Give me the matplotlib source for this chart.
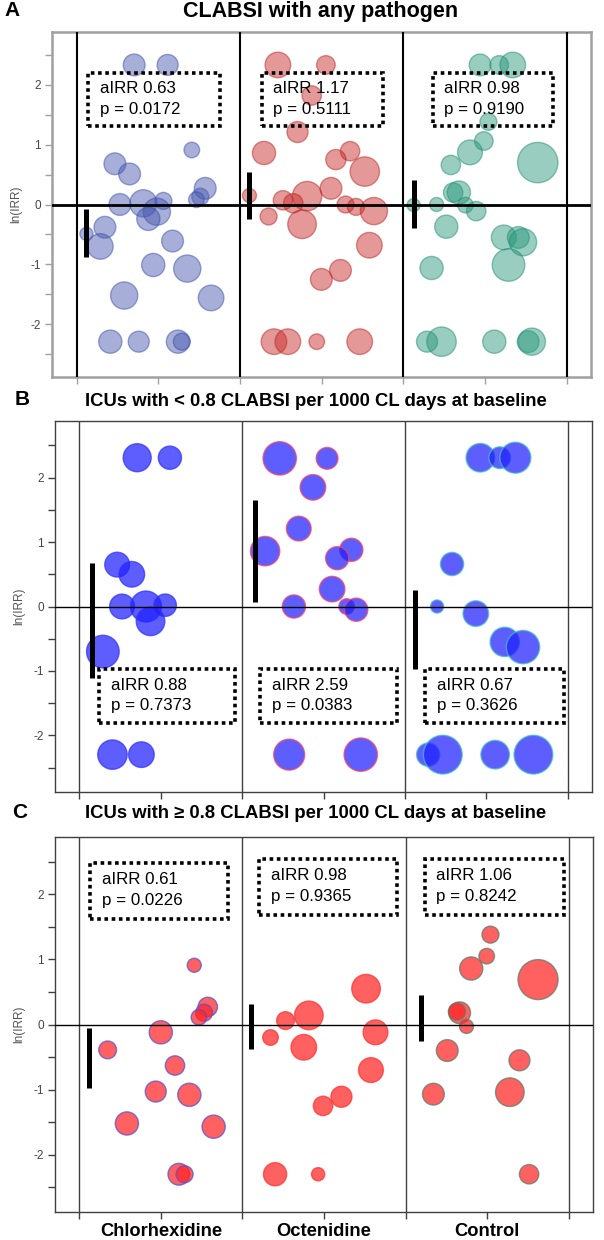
import numpy as np
import matplotlib
matplotlib.use("Agg")
import matplotlib.pyplot as plt
from matplotlib.patches import Rectangle

plt.rcParams['font.family'] = ['Liberation Sans', 'DejaVu Sans']

groups = ['Chlorhexidine', 'Octenidine', 'Control']

# ---- panel A: CLABSI with any pathogen ----
a_chx_x = [0.353, 0.558, 0.706, 0.235, 0.325, 0.266, 0.409, 0.532, 0.492, 0.44, 0.758, 0.788, 0.734,
           0.061, 0.174, 0.146, 0.588, 0.47, 0.678, 0.292, 0.824, 0.207, 0.381, 0.621, 0.645]
a_chx_y = [2.33, 2.33, 0.91, 0.68, 0.51, 0.0, 0.02, 0.06, -0.12, -0.24, 0.13, 0.27, 0.08,
           -0.49, -0.38, -0.70, -0.61, -1.01, -1.07, -1.52, -1.56, -2.29, -2.29, -2.29, -2.29]
a_chx_w = [10.9, 10.5, 7.8, 10.9, 10.9, 10.9, 13.6, 8.5, 13.6, 11.6, 8.5, 10.9, 7.8,
           6.6, 10.9, 12.8, 10.9, 11.6, 13.6, 13.6, 12.8, 11.6, 10.5, 11.6, 8.5]
a_oct_x = [0.233, 0.527, 0.44, 0.353, 0.148, 0.675, 0.588, 0.765, 0.558, 0.412, 0.059, 0.264, 0.327,
           0.647, 0.711, 0.821, 0.176, 0.381, 0.793, 0.616, 0.499, 0.209, 0.294, 0.471, 0.734]
a_oct_y = [2.33, 2.33, 1.82, 1.21, 0.86, 0.89, 0.75, 0.55, 0.27, 0.14, 0.15, 0.07, 0.02,
           0.0, -0.04, -0.11, -0.2, -0.33, -0.68, -1.10, -1.25, -2.29, -2.29, -2.29, -2.29]
a_oct_w = [12.8, 9.3, 9.7, 10.5, 11.6, 9.7, 10.1, 14.7, 10.9, 14.7, 7.0, 9.7, 9.7,
           8.5, 8.5, 13.6, 8.5, 14.3, 12.8, 10.9, 10.9, 12.8, 12.8, 7.8, 12.8]
a_ctl_x = [0.471, 0.588, 0.671, 0.522, 0.494, 0.409, 0.824, 0.292, 0.306, 0.341, 0.064, 0.205, 0.381,
           0.447, 0.264, 0.616, 0.705, 0.734, 0.174, 0.645, 0.146, 0.235, 0.558, 0.765, 0.788]
a_ctl_y = [2.33, 2.33, 2.33, 1.38, 1.06, 0.87, 0.70, 0.66, 0.20, 0.20, -0.01, 0.0, -0.01,
           -0.11, -0.37, -0.55, -0.55, -0.63, -1.06, -1.01, -2.29, -2.29, -2.29, -2.29, -2.29]
a_ctl_w = [10.9, 9.3, 12.8, 8.5, 9.3, 12.4, 20.2, 9.7, 9.7, 11.6, 6.6, 7.0, 7.8,
           9.7, 11.6, 12.4, 10.9, 13.6, 11.6, 16.3, 10.5, 14.7, 11.6, 10.9, 13.6]
a_ci_lo = [-0.88, -0.25, -0.39]
a_ci_hi = [-0.08, 0.54, 0.41]
a_airr = ['0.63', '1.17', '0.98']
a_p = ['0.0172', '0.5111', '0.9190']

# ---- panel B: ICUs with < 0.8 CLABSI per 1000 CL days ----
b_chx_x = [0.355, 0.556, 0.232, 0.322, 0.262, 0.409, 0.527, 0.437, 0.144, 0.203, 0.381]
b_chx_y = [2.31, 2.31, 0.65, 0.50, 0.0, 0.0, 0.02, -0.23, -0.70, -2.30, -2.30]
b_chx_w = [14.0, 11.6, 12.4, 12.8, 12.4, 15.5, 11.2, 14.3, 16.3, 14.7, 12.8]
b_oct_x = [0.231, 0.522, 0.435, 0.348, 0.141, 0.671, 0.584, 0.553, 0.318, 0.642, 0.701, 0.289, 0.729]
b_oct_y = [2.30, 2.30, 1.85, 1.21, 0.86, 0.88, 0.75, 0.27, 0.0, 0.0, -0.05, -2.30, -2.30]
b_oct_w = [16.7, 10.9, 12.8, 12.4, 14.7, 11.6, 11.6, 12.8, 11.6, 7.8, 11.6, 15.5, 16.7]
b_ctl_x = [0.464, 0.583, 0.679, 0.290, 0.198, 0.436, 0.614, 0.726, 0.143, 0.233, 0.555, 0.79]
b_ctl_y = [2.31, 2.31, 2.31, 0.66, 0.0, -0.11, -0.55, -0.63, -2.30, -2.30, -2.30, -2.30]
b_ctl_w = [14.3, 10.9, 15.5, 11.6, 6.6, 12.8, 14.7, 16.7, 11.6, 19.4, 14.3, 19.4]
b_ci_lo = [-1.11, 0.07, -0.97]
b_ci_hi = [0.67, 1.66, 0.26]
b_airr = ['0.88', '2.59', '0.67']
b_p = ['0.7373', '0.0383', '0.3626']

# ---- panel C: ICUs with >= 0.8 CLABSI per 1000 CL days ----
c_chx_x = [0.704, 0.787, 0.764, 0.733, 0.499, 0.173, 0.586, 0.468, 0.674, 0.291, 0.823, 0.61, 0.645]
c_chx_y = [0.91, 0.27, 0.18, 0.11, -0.12, -0.39, -0.63, -1.03, -1.08, -1.52, -1.57, -2.30, -2.30]
c_chx_w = [7.0, 9.7, 8.5, 7.8, 11.6, 8.9, 9.7, 10.5, 11.6, 11.6, 11.6, 10.9, 8.5]
c_oct_x = [0.758, 0.407, 0.264, 0.172, 0.376, 0.816, 0.788, 0.607, 0.494, 0.2, 0.464]
c_oct_y = [0.55, 0.14, 0.06, -0.20, -0.35, -0.12, -0.70, -1.11, -1.25, -2.30, -2.30]
c_oct_w = [14.3, 14.3, 8.9, 7.8, 12.8, 12.4, 12.4, 10.5, 9.7, 11.6, 6.6]
c_ctl_x = [0.521, 0.498, 0.403, 0.813, 0.332, 0.315, 0.374, 0.256, 0.699, 0.171, 0.64, 0.758]
c_ctl_y = [1.38, 1.05, 0.86, 0.69, 0.18, 0.20, -0.03, -0.40, -0.55, -1.07, -1.04, -2.30]
c_ctl_w = [8.5, 7.8, 11.6, 20.0, 10.9, 8.5, 7.0, 10.9, 10.5, 10.9, 14.3, 9.7]
c_ci_lo = [-0.97, -0.37, -0.26]
c_ci_hi = [-0.05, 0.31, 0.46]
c_airr = ['0.61', '0.98', '1.06']
c_p = ['0.0226', '0.9365', '0.8242']

W, H = 604, 1240
fig = plt.figure(figsize=(W / 100, H / 100), dpi=100)


def make_ax(l, r, t, b):
    return fig.add_axes([l / W, 1 - b / H, (r - l) / W, (b - t) / H])


def size(w):
    # radius in px -> marker area in pt^2
    return (np.array(w) * 1.44) ** 2


def panel(ax, pts, ci_x, ci_lo, ci_hi, airr, pv, boxes, txt, faces, edges, alpha,
          frame, lw_grid, lw_zero):
    for g, (xs, ys, ws) in enumerate(pts):
        ax.scatter(np.array(xs) + g, ys, s=size(ws), facecolor=faces[g], edgecolor=edges[g],
                   alpha=alpha, linewidths=1.0, zorder=2)
    for g in range(4):
        ax.axvline(g, color=frame if lw_grid < 1.2 else 'black', lw=lw_grid, zorder=3)
    ax.axhline(0, color='black', lw=lw_zero, zorder=3)
    for g in range(3):
        ax.plot([ci_x[g] + g] * 2, [ci_lo[g], ci_hi[g]], color='black', lw=3.6,
                solid_capstyle='butt', zorder=4)
        x0, x1, y0, y1 = boxes[g]
        ax.add_patch(Rectangle((g + x0, y0), x1 - x0, y1 - y0, fill=False, ec='black',
                               lw=2.6, ls=(0, (1, 1)), zorder=5))
        tx, ty1, ty2 = txt[g]
        ax.text(g + tx, ty1, 'aIRR ' + airr[g], fontsize=12.2, va='center', ha='left', zorder=6)
        ax.text(g + tx, ty2, 'p = ' + pv[g], fontsize=12.2, va='center', ha='left', zorder=6)
    ax.set_xlim(-0.15, 3.15)
    ax.set_ylim(-2.88, 2.88)
    ax.set_yticks(np.arange(-2.5, 2.51, 0.5))
    ax.set_yticklabels([('%d' % v) if v == int(v) else '' for v in np.arange(-2.5, 2.51, 0.5)])
    ax.set_xticks(np.arange(0, 3.01, 0.5))
    ax.set_xticklabels([])
    ax.tick_params(axis='both', length=5, width=1, color=frame, labelcolor='#444444',
                   labelsize=8.5, pad=3)
    for s in ax.spines.values():
        s.set_color(frame)
        s.set_linewidth(1.8 if frame == '#a0a0a0' else 1.0)
    ax.set_ylabel('ln(IRR)', fontsize=8.5, color='#555555', labelpad=6)


# A
axA = make_ax(52, 591, 32, 377)
panel(axA,
      [(a_chx_x, a_chx_y, a_chx_w), (a_oct_x, a_oct_y, a_oct_w), (a_ctl_x, a_ctl_y, a_ctl_w)],
      [0.061, 0.059, 0.064], a_ci_lo, a_ci_hi, a_airr, a_p,
      [(0.068, 0.88, 1.31, 2.2), (0.134, 0.875, 1.31, 2.2), (0.181, 0.918, 1.31, 2.2)],
      [(0.141, 1.93, 1.58), (0.205, 1.93, 1.58), (0.252, 1.93, 1.58)],
      ['#4759b1', '#c72929', '#29977b'], ['#3a4ca8', '#b82020', '#1f8a70'], 0.48,
      '#a0a0a0', 1.5, 2.0)

# B
axB = make_ax(55, 592, 421, 792)
panel(axB,
      [(b_chx_x, b_chx_y, b_chx_w), (b_oct_x, b_oct_y, b_oct_w), (b_ctl_x, b_ctl_y, b_ctl_w)],
      [0.078, 0.078, 0.064], b_ci_lo, b_ci_hi, b_airr, b_p,
      [(0.12, 0.957, -1.81, -0.97), (0.111, 0.95, -1.81, -0.97), (0.125, 0.976, -1.81, -0.97)],
      [(0.196, -1.22, -1.54), (0.181, -1.22, -1.54), (0.195, -1.22, -1.54)],
      ['#2020ff', '#2020ff', '#2020ff'], ['#3030ff', '#ff4060', '#40c0c0'], 0.72,
      '#404040', 1.0, 1.0)

# C
axC = make_ax(55, 593, 837, 1212)
panel(axC,
      [(c_chx_x, c_chx_y, c_chx_w), (c_oct_x, c_oct_y, c_oct_w), (c_ctl_x, c_ctl_y, c_ctl_w)],
      [0.061, 0.052, 0.095], c_ci_lo, c_ci_hi, c_airr, c_p,
      [(0.066, 0.913, 1.62, 2.48), (0.1, 0.95, 1.68, 2.54), (0.118, 0.97, 1.68, 2.54)],
      [(0.137, 2.22, 1.90), (0.176, 2.29, 1.97), (0.19, 2.29, 1.97)],
      ['#ff2323', '#ff2323', '#ff2323'], ['#5050e0', '#ff3030', '#5a7a6a'], 0.72,
      '#404040', 1.0, 1.0)
xlabels = ['', groups[0], '', groups[1], '', groups[2], '']
axC.set_xticklabels(xlabels, fontsize=13.2, fontweight='bold')
axC.tick_params(axis='x', pad=3, labelcolor='black')

# titles and panel letters
fig.text(321 / W, 1 - 11 / H, 'CLABSI with any pathogen', ha='center', va='center',
         fontsize=15.5, fontweight='bold')
fig.text(316 / W, 1 - 402 / H, 'ICUs with < 0.8 CLABSI per 1000 CL days at baseline',
         ha='center', va='center', fontsize=13.3, fontweight='bold')
fig.text(316 / W, 1 - 813 / H, 'ICUs with \u2265 0.8 CLABSI per 1000 CL days at baseline',
         ha='center', va='center', fontsize=13.3, fontweight='bold')
for lab, x, y in [('A', 12, 10), ('B', 22, 400), ('C', 20, 812)]:
    fig.text(x / W, 1 - y / H, lab, ha='center', va='center', fontsize=15, fontweight='bold')

fig.savefig('out.png', dpi=100)
